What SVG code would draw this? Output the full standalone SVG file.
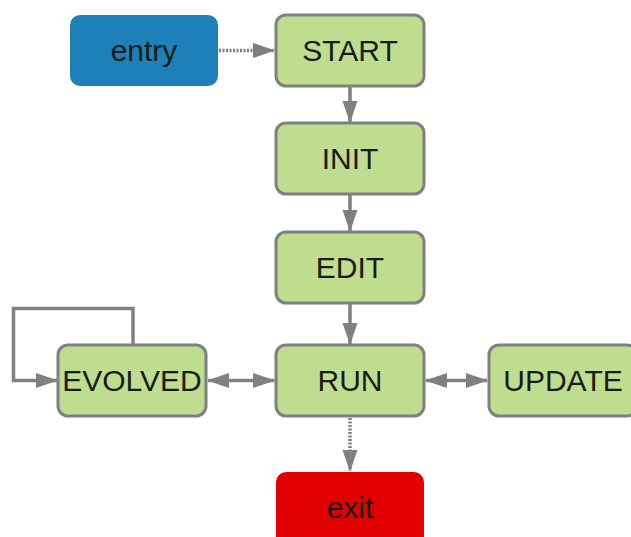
<svg xmlns="http://www.w3.org/2000/svg" width="631" height="537" viewBox="0 0 631 537">
<defs>
<style>
.st{fill:#bfdd8f;stroke:#808080;stroke-width:3}
.lbl{font-family:"Liberation Sans",Arial,sans-serif;font-size:30px;fill:#1a1a1a;text-anchor:middle}
.ln{fill:none;stroke:#808080;stroke-width:3.5}
.dot{fill:none;stroke:#808080;stroke-width:3.5;stroke-dasharray:2 1.5}
</style>
<marker id="ah" viewBox="0 0 22 16" refX="21" refY="8" markerWidth="22" markerHeight="16" markerUnits="userSpaceOnUse" orient="auto-start-reverse">
<path d="M0,0.5 L22,8 L0,15.5 z" fill="#808080"/>
</marker>
</defs>
<g id="connectors">
<line class="dot" x1="219" y1="50.5" x2="274" y2="50.5" marker-end="url(#ah)"/>
<line class="ln" x1="350" y1="87" x2="350" y2="122" marker-end="url(#ah)"/>
<line class="ln" x1="350" y1="195" x2="350" y2="231" marker-end="url(#ah)"/>
<line class="ln" x1="350" y1="304" x2="350" y2="344" marker-end="url(#ah)"/>
<line class="ln" x1="208" y1="380.5" x2="274" y2="380.5" marker-start="url(#ah)" marker-end="url(#ah)"/>
<line class="ln" x1="426" y1="380.5" x2="487" y2="380.5" marker-start="url(#ah)" marker-end="url(#ah)"/>
<line class="dot" x1="350" y1="418" x2="350" y2="471" marker-end="url(#ah)"/>
<polyline class="ln" points="133,344 133,308.5 13.5,308.5 13.5,380.5 57,380.5" marker-end="url(#ah)"/>
</g>
<g id="entry">
<rect x="70" y="15" width="148" height="71" rx="10" fill="#1d80b8"/>
<text class="lbl" x="144" y="61">entry</text>
</g>
<g id="START">
<rect class="st" x="276" y="15" width="148" height="71" rx="10"/>
<text class="lbl" x="350" y="61">START</text>
</g>
<g id="INIT">
<rect class="st" x="276" y="123" width="148" height="71" rx="10"/>
<text class="lbl" x="350" y="169">INIT</text>
</g>
<g id="EDIT">
<rect class="st" x="276" y="232" width="148" height="71" rx="10"/>
<text class="lbl" x="350" y="278">EDIT</text>
</g>
<g id="RUN">
<rect class="st" x="276" y="345" width="148" height="71" rx="10"/>
<text class="lbl" x="350" y="391">RUN</text>
</g>
<g id="EVOLVED">
<rect class="st" x="58" y="345" width="148" height="71" rx="10"/>
<text class="lbl" x="132" y="391">EVOLVED</text>
</g>
<g id="UPDATE">
<rect class="st" x="489" y="345" width="148" height="71" rx="10"/>
<text class="lbl" x="563" y="391">UPDATE</text>
</g>
<g id="exit">
<rect x="276" y="472" width="148" height="75" rx="10" fill="#e00000"/>
<text class="lbl" x="350" y="518">exit</text>
</g>
</svg>
